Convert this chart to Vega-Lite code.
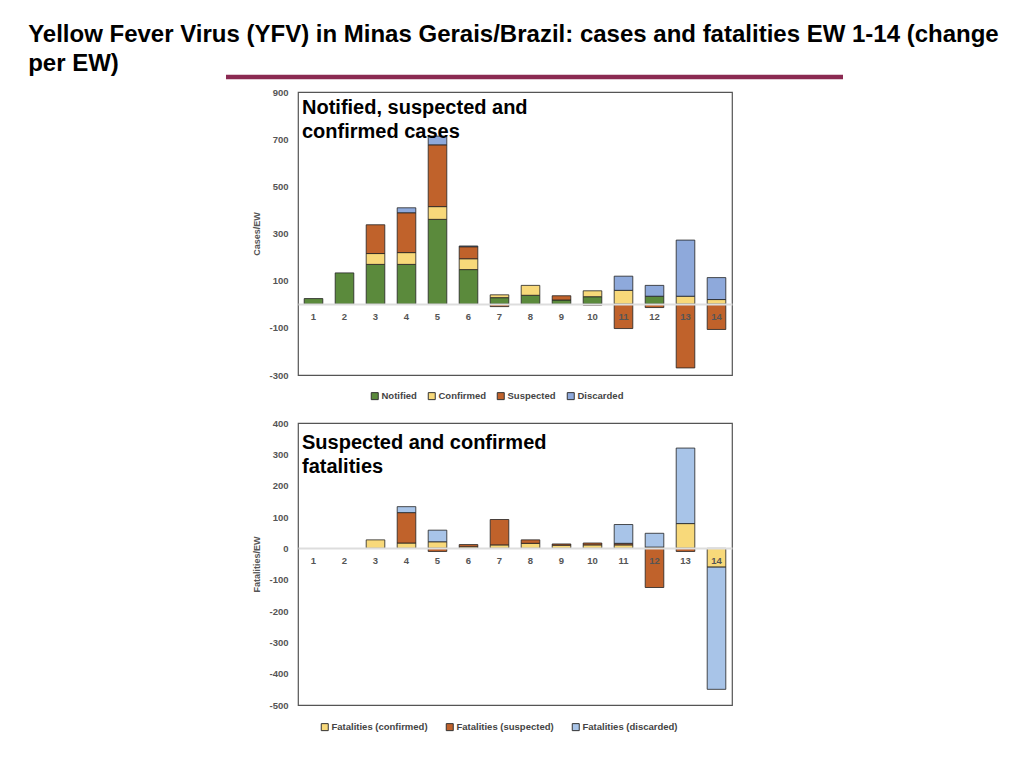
{
  "$schema": "https://vega.github.io/schema/vega-lite/v6.json",
  "background": "white",
  "padding": {"left": 28, "top": 22, "right": 10, "bottom": 10},
  "title": {
    "text": ["Yellow Fever Virus (YFV) in Minas Gerais/Brazil: cases and fatalities EW 1-14 (change", "per EW)"],
    "anchor": "start",
    "font": "Liberation Sans",
    "fontSize": 24,
    "fontWeight": "bold",
    "color": "#000000",
    "lineHeight": 29.5,
    "dx": -195,
    "offset": -2
  },
  "config": {
    "font": "Liberation Sans",
    "view": {"stroke": "#555555", "strokeWidth": 1.2},
    "axis": {
      "grid": false,
      "ticks": false,
      "labelFont": "Liberation Sans",
      "labelFontSize": 9.5,
      "labelFontWeight": "bold",
      "labelColor": "#555555",
      "titleFont": "Liberation Sans",
      "titleFontSize": 9,
      "titleFontWeight": "bold",
      "titleColor": "#555555",
      "labelOverlap": false
    },
    "legend": {
      "labelFont": "Liberation Sans",
      "labelFontSize": 9.5,
      "labelFontWeight": "bold",
      "labelColor": "#444444",
      "symbolType": "square",
      "symbolSize": 49,
      "symbolStrokeColor": "#333333",
      "symbolStrokeWidth": 1,
      "labelOffset": 2
    }
  },
  "spacing": 14,
  "resolve": {"scale": {"color": "independent"}, "legend": {"color": "independent"}},
  "datasets": {
    "cases": [
      {"EW": 1, "series": "Notified", "rank": 1, "value": 24},
      {"EW": 2, "series": "Notified", "rank": 1, "value": 133},
      {"EW": 3, "series": "Notified", "rank": 1, "value": 169},
      {"EW": 3, "series": "Confirmed", "rank": 2, "value": 46},
      {"EW": 3, "series": "Suspected", "rank": 3, "value": 122},
      {"EW": 4, "series": "Notified", "rank": 1, "value": 169},
      {"EW": 4, "series": "Confirmed", "rank": 2, "value": 50},
      {"EW": 4, "series": "Suspected", "rank": 3, "value": 169},
      {"EW": 4, "series": "Discarded", "rank": 4, "value": 21},
      {"EW": 5, "series": "Notified", "rank": 1, "value": 360},
      {"EW": 5, "series": "Confirmed", "rank": 2, "value": 54},
      {"EW": 5, "series": "Suspected", "rank": 3, "value": 262},
      {"EW": 5, "series": "Discarded", "rank": 4, "value": 37},
      {"EW": 6, "series": "Notified", "rank": 1, "value": 147},
      {"EW": 6, "series": "Confirmed", "rank": 2, "value": 46},
      {"EW": 6, "series": "Suspected", "rank": 3, "value": 51},
      {"EW": 6, "series": "Discarded", "rank": 4, "value": 3},
      {"EW": 7, "series": "Notified", "rank": 1, "value": 28},
      {"EW": 7, "series": "Confirmed", "rank": 2, "value": 12},
      {"EW": 7, "series": "Suspected", "rank": 3, "value": -10},
      {"EW": 8, "series": "Notified", "rank": 1, "value": 38},
      {"EW": 8, "series": "Confirmed", "rank": 2, "value": 42},
      {"EW": 9, "series": "Notified", "rank": 1, "value": 18},
      {"EW": 9, "series": "Suspected", "rank": 3, "value": 18},
      {"EW": 10, "series": "Notified", "rank": 1, "value": 32},
      {"EW": 10, "series": "Confirmed", "rank": 2, "value": 25},
      {"EW": 10, "series": "Suspected", "rank": 3, "value": -4},
      {"EW": 11, "series": "Confirmed", "rank": 2, "value": 59},
      {"EW": 11, "series": "Suspected", "rank": 3, "value": -103},
      {"EW": 11, "series": "Discarded", "rank": 4, "value": 60},
      {"EW": 12, "series": "Notified", "rank": 1, "value": 34},
      {"EW": 12, "series": "Suspected", "rank": 3, "value": -14},
      {"EW": 12, "series": "Discarded", "rank": 4, "value": 46},
      {"EW": 13, "series": "Confirmed", "rank": 2, "value": 34},
      {"EW": 13, "series": "Suspected", "rank": 3, "value": -270},
      {"EW": 13, "series": "Discarded", "rank": 4, "value": 238},
      {"EW": 14, "series": "Confirmed", "rank": 2, "value": 20},
      {"EW": 14, "series": "Suspected", "rank": 3, "value": -107},
      {"EW": 14, "series": "Discarded", "rank": 4, "value": 93}
    ],
    "fatalities": [
      {"EW": 3, "series": "Fatalities (confirmed)", "rank": 1, "value": 27},
      {"EW": 4, "series": "Fatalities (confirmed)", "rank": 1, "value": 17},
      {"EW": 4, "series": "Fatalities (suspected)", "rank": 2, "value": 97},
      {"EW": 4, "series": "Fatalities (discarded)", "rank": 3, "value": 19},
      {"EW": 5, "series": "Fatalities (confirmed)", "rank": 1, "value": 21},
      {"EW": 5, "series": "Fatalities (suspected)", "rank": 2, "value": -10},
      {"EW": 5, "series": "Fatalities (discarded)", "rank": 3, "value": 37},
      {"EW": 6, "series": "Fatalities (confirmed)", "rank": 1, "value": 5},
      {"EW": 6, "series": "Fatalities (suspected)", "rank": 2, "value": 7},
      {"EW": 7, "series": "Fatalities (confirmed)", "rank": 1, "value": 11},
      {"EW": 7, "series": "Fatalities (suspected)", "rank": 2, "value": 81},
      {"EW": 8, "series": "Fatalities (confirmed)", "rank": 1, "value": 16},
      {"EW": 8, "series": "Fatalities (suspected)", "rank": 2, "value": 11},
      {"EW": 9, "series": "Fatalities (confirmed)", "rank": 1, "value": 10},
      {"EW": 9, "series": "Fatalities (suspected)", "rank": 2, "value": 4},
      {"EW": 10, "series": "Fatalities (confirmed)", "rank": 1, "value": 11},
      {"EW": 10, "series": "Fatalities (suspected)", "rank": 2, "value": 6},
      {"EW": 11, "series": "Fatalities (confirmed)", "rank": 1, "value": 11},
      {"EW": 11, "series": "Fatalities (suspected)", "rank": 2, "value": 5},
      {"EW": 11, "series": "Fatalities (discarded)", "rank": 3, "value": 60},
      {"EW": 12, "series": "Fatalities (confirmed)", "rank": 1, "value": 4},
      {"EW": 12, "series": "Fatalities (suspected)", "rank": 2, "value": -125},
      {"EW": 12, "series": "Fatalities (discarded)", "rank": 3, "value": 44},
      {"EW": 13, "series": "Fatalities (confirmed)", "rank": 1, "value": 79},
      {"EW": 13, "series": "Fatalities (suspected)", "rank": 2, "value": -10},
      {"EW": 13, "series": "Fatalities (discarded)", "rank": 3, "value": 241},
      {"EW": 14, "series": "Fatalities (confirmed)", "rank": 1, "value": -60},
      {"EW": 14, "series": "Fatalities (discarded)", "rank": 3, "value": -390}
    ]
  },
  "vconcat": [
    {
      "width": 434,
      "height": 283,
      "layer": [
        {
          "data": {"name": "cases"},
          "mark": {"type": "bar", "stroke": "#222222", "strokeWidth": 0.8},
          "encoding": {
            "x": {
              "field": "EW",
              "type": "ordinal",
              "scale": {"domain": [1, 2, 3, 4, 5, 6, 7, 8, 9, 10, 11, 12, 13, 14], "paddingInner": 0.4, "paddingOuter": 0.2},
              "axis": {"orient": "bottom", "offset": -71, "title": null, "labelAngle": 0, "domainColor": "#dddddd", "domainWidth": 2, "labelPadding": 7, "zindex": 1}
            },
            "y": {
              "field": "value",
              "type": "quantitative",
              "stack": "zero",
              "scale": {"domain": [-300, 900], "nice": false, "zero": false},
              "axis": {"title": "Cases/EW", "values": [-300, -100, 100, 300, 500, 700, 900], "tickCount": 20, "labelExpr": "datum.value < 0 ? '-' + abs(datum.value) : '' + datum.value", "labelPadding": 10, "titlePadding": 7, "domain": false}
            },
            "color": {
              "field": "series",
              "type": "nominal",
              "scale": {"domain": ["Notified", "Confirmed", "Suspected", "Discarded"], "range": ["#5B8A3C", "#F8D97A", "#C0622B", "#8EA9DB"]},
              "legend": {"title": null, "orient": "none", "direction": "horizontal", "legendX": 72, "legendY": 299, "columnPadding": 9}
            },
            "order": {"field": "rank", "type": "quantitative"}
          }
        },
        {
          "data": {"values": [{}]},
          "mark": {"type": "text", "align": "left", "baseline": "alphabetic", "font": "Liberation Sans", "fontSize": 20, "fontWeight": "bold", "lineHeight": 24, "dx": 4, "color": "#000000"},
          "encoding": {
            "x": {"datum": 0, "type": "quantitative", "scale": {"domain": [0, 1]}, "axis": null},
            "y": {"datum": 808, "type": "quantitative"},
            "text": {"value": ["Notified, suspected and", "confirmed cases"]}
          }
        },
        {
          "data": {"values": [{}]},
          "mark": {"type": "rule", "color": "#8B2A52", "strokeWidth": 4.5},
          "encoding": {
            "x": {"datum": 0, "type": "quantitative", "scale": {"domain": [0.1167, 0.8201]}, "axis": null},
            "x2": {"datum": 1},
            "y": {"datum": 964, "type": "quantitative"}
          }
        }
      ],
      "resolve": {"scale": {"x": "independent"}}
    },
    {
      "width": 434,
      "height": 282,
      "layer": [
        {
          "data": {"name": "fatalities"},
          "mark": {"type": "bar", "stroke": "#222222", "strokeWidth": 0.8},
          "encoding": {
            "x": {
              "field": "EW",
              "type": "ordinal",
              "scale": {"domain": [1, 2, 3, 4, 5, 6, 7, 8, 9, 10, 11, 12, 13, 14], "paddingInner": 0.4, "paddingOuter": 0.2},
              "axis": {"orient": "bottom", "offset": -157, "title": null, "labelAngle": 0, "domainColor": "#dddddd", "domainWidth": 2, "labelPadding": 7, "zindex": 1}
            },
            "y": {
              "field": "value",
              "type": "quantitative",
              "stack": "zero",
              "scale": {"domain": [-500, 400], "nice": false, "zero": false},
              "axis": {"title": "Fatalities/EW", "values": [-500, -400, -300, -200, -100, 0, 100, 200, 300, 400], "tickCount": 20, "labelExpr": "datum.value < 0 ? '-' + abs(datum.value) : '' + datum.value", "labelPadding": 10, "titlePadding": 7, "domain": false}
            },
            "color": {
              "field": "series",
              "type": "nominal",
              "scale": {"domain": ["Fatalities (confirmed)", "Fatalities (suspected)", "Fatalities (discarded)"], "range": ["#F8D97A", "#C0622B", "#A8C4E8"]},
              "legend": {"title": null, "orient": "none", "direction": "horizontal", "legendX": 22, "legendY": 299, "columnPadding": 16}
            },
            "order": {"field": "rank", "type": "quantitative"}
          }
        },
        {
          "data": {"values": [{}]},
          "mark": {"type": "text", "align": "left", "baseline": "alphabetic", "font": "Liberation Sans", "fontSize": 20, "fontWeight": "bold", "lineHeight": 24, "dx": 4, "color": "#000000"},
          "encoding": {
            "x": {"datum": 0, "type": "quantitative", "scale": {"domain": [0, 1]}, "axis": null},
            "y": {"datum": 318, "type": "quantitative"},
            "text": {"value": ["Suspected and confirmed", "fatalities"]}
          }
        }
      ],
      "resolve": {"scale": {"x": "independent"}}
    }
  ]
}
